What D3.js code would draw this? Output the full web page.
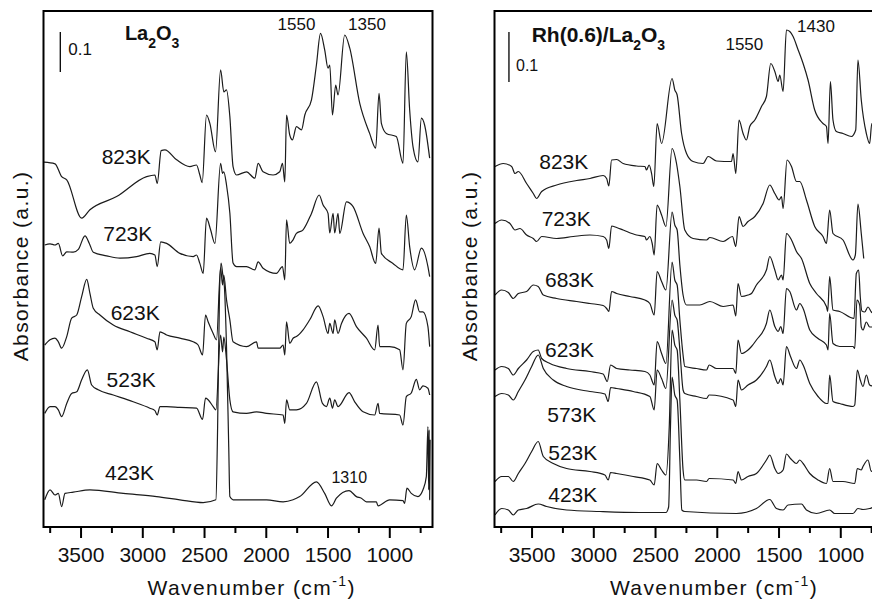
<!DOCTYPE html>
<html><head><meta charset="utf-8">
<script src="https://cdn.jsdelivr.net/npm/d3@7"></script>
<style>
html,body{margin:0;padding:0;background:#fff;}
svg{display:block;}
text{font-family:Arial,"Liberation Sans",Helvetica,sans-serif;fill:#111;}
</style></head>
<body><svg id="chart" width="872" height="601"></svg>
<script>
// ---------------- DATA ----------------
// Wavenumber tick values (cm-1)
const majorTicks = [3500, 3000, 2500, 2000, 1500, 1000];
const minorTicks = [3750, 3250, 2750, 2250, 1750, 1250, 750];

// Left panel: La2O3   [wavenumber, absorbance]
const la823 = [[3796,0.912],[3707,0.908],[3653,0.876],[3612,0.868],[3491,0.772],[3424,0.793],[3208,0.826],[2965,0.876],[2898,0.88],[2879,0.859],[2847,0.941],[2817,0.943],[2722,0.918],[2615,0.901],[2561,0.905],[2534,0.88],[2515,0.861],[2480,1.03],[2453,1.009],[2407,0.938],[2366,1.143],[2340,1.088],[2318,1.093],[2291,1.026],[2265,0.901],[2237,0.88],[2156,0.888],[2089,0.872],[2062,0.909],[2022,0.888],[1941,0.88],[1887,0.888],[1865,0.909],[1846,0.863],[1832,1.03],[1806,0.98],[1784,0.968],[1752,1.001],[1711,0.993],[1684,1.03],[1630,1.068],[1590,1.155],[1557,1.234],[1523,1.193],[1496,1.147],[1482,1.155],[1460,1.03],[1434,1.105],[1415,1.08],[1361,1.23],[1320,1.197],[1239,1.059],[1159,0.984],[1110,0.947],[1083,1.084],[1064,1.009],[1024,0.984],[943,0.976],[889,0.909],[862,1.188],[835,1.043],[808,0.951],[768,0.913],[740,1.022],[714,1.005],[673,0.922]];
const la723 = [[3790,0.705],[3747,0.708],[3707,0.705],[3680,0.709],[3645,0.678],[3612,0.688],[3559,0.687],[3518,0.694],[3464,0.728],[3429,0.709],[3397,0.687],[3289,0.678],[3181,0.672],[3046,0.676],[2939,0.684],[2898,0.68],[2879,0.651],[2851,0.713],[2803,0.709],[2696,0.684],[2588,0.676],[2561,0.68],[2534,0.659],[2507,0.634],[2480,0.772],[2447,0.743],[2412,0.709],[2366,0.909],[2350,0.884],[2340,0.888],[2318,0.855],[2291,0.785],[2265,0.66],[2237,0.651],[2156,0.651],[2089,0.643],[2062,0.663],[2022,0.647],[1914,0.634],[1865,0.651],[1846,0.618],[1832,0.768],[1806,0.709],[1779,0.718],[1752,0.734],[1698,0.743],[1630,0.784],[1568,0.83],[1536,0.805],[1496,0.784],[1482,0.735],[1455,0.784],[1442,0.735],[1415,0.784],[1401,0.734],[1347,0.813],[1293,0.801],[1212,0.734],[1159,0.701],[1110,0.659],[1083,0.747],[1064,0.684],[970,0.659],[889,0.643],[862,0.78],[835,0.701],[795,0.643],[740,0.697],[687,0.651],[673,0.626]];
const la623 = [[3790,0.455],[3747,0.468],[3707,0.472],[3680,0.463],[3653,0.447],[3612,0.476],[3572,0.522],[3531,0.53],[3491,0.576],[3450,0.619],[3424,0.584],[3397,0.547],[3343,0.53],[3235,0.505],[3100,0.488],[2965,0.472],[2898,0.463],[2879,0.443],[2857,0.488],[2803,0.48],[2696,0.472],[2588,0.463],[2548,0.455],[2512,0.43],[2488,0.53],[2467,0.513],[2426,0.484],[2399,0.468],[2366,0.648],[2350,0.605],[2340,0.63],[2318,0.568],[2291,0.518],[2265,0.463],[2156,0.451],[2075,0.463],[2062,0.447],[1994,0.447],[1887,0.447],[1860,0.455],[1846,0.43],[1832,0.513],[1806,0.459],[1779,0.472],[1752,0.476],[1698,0.493],[1644,0.518],[1576,0.553],[1536,0.526],[1496,0.484],[1482,0.509],[1455,0.484],[1442,0.518],[1415,0.484],[1387,0.509],[1326,0.534],[1266,0.501],[1185,0.472],[1118,0.443],[1091,0.505],[1078,0.451],[997,0.451],[916,0.443],[889,0.393],[862,0.509],[822,0.526],[787,0.568],[754,0.538],[727,0.538],[687,0.501],[673,0.451]];
const la523 = [[3790,0.284],[3747,0.301],[3707,0.301],[3680,0.293],[3653,0.276],[3612,0.309],[3572,0.334],[3531,0.338],[3491,0.368],[3445,0.393],[3410,0.355],[3357,0.343],[3235,0.33],[3074,0.313],[2939,0.297],[2898,0.291],[2879,0.28],[2857,0.301],[2803,0.301],[2696,0.299],[2561,0.297],[2512,0.269],[2488,0.322],[2467,0.318],[2426,0.301],[2404,0.293],[2366,0.48],[2350,0.438],[2340,0.475],[2318,0.418],[2291,0.318],[2265,0.288],[2156,0.284],[2075,0.288],[1994,0.284],[1860,0.28],[1846,0.259],[1832,0.318],[1806,0.293],[1752,0.293],[1671,0.309],[1590,0.363],[1541,0.309],[1509,0.301],[1482,0.322],[1460,0.297],[1442,0.318],[1415,0.301],[1326,0.336],[1280,0.313],[1212,0.288],[1118,0.28],[1091,0.309],[1078,0.284],[916,0.28],[889,0.255],[862,0.326],[822,0.335],[781,0.369],[754,0.343],[727,0.353],[687,0.347],[673,0.33]];
const la423 = [[3790,0.068],[3747,0.093],[3707,0.08],[3680,0.084],[3653,0.051],[3626,0.084],[3559,0.087],[3424,0.093],[3154,0.084],[2884,0.076],[2696,0.068],[2507,0.061],[2404,0.068],[2390,0.25],[2375,0.58],[2362,0.66],[2348,0.63],[2335,0.6],[2318,0.45],[2300,0.2],[2291,0.076],[2265,0.068],[1994,0.068],[1860,0.063],[1779,0.068],[1725,0.076],[1590,0.113],[1523,0.084],[1468,0.053],[1428,0.072],[1326,0.091],[1266,0.076],[1226,0.072],[1185,0.063],[1105,0.063],[1091,0.053],[997,0.068],[889,0.066],[876,0.059],[857,0.097],[822,0.084],[768,0.076],[727,0.093],[700,0.126],[687,0.251],[681,0.093],[677,0.243],[673,0.068],[669,0.218]];

// Right panel: Rh(0.6)/La2O3   [wavenumber, absorbance]
const rh823 = [[3796,0.721],[3729,0.727],[3661,0.721],[3634,0.707],[3607,0.711],[3540,0.687],[3486,0.667],[3459,0.657],[3418,0.671],[3297,0.684],[3135,0.693],[3027,0.697],[2920,0.703],[2892,0.697],[2874,0.682],[2852,0.734],[2811,0.735],[2758,0.727],[2650,0.722],[2582,0.721],[2569,0.714],[2548,0.724],[2528,0.707],[2510,0.681],[2483,0.807],[2447,0.767],[2362,0.897],[2340,0.874],[2321,0.864],[2285,0.787],[2245,0.747],[2192,0.731],[2111,0.727],[2070,0.741],[2002,0.732],[1881,0.731],[1868,0.747],[1846,0.707],[1820,0.814],[1787,0.787],[1760,0.774],[1733,0.801],[1692,0.814],[1638,0.841],[1598,0.861],[1563,0.927],[1530,0.911],[1503,0.891],[1490,0.904],[1463,0.871],[1436,0.994],[1409,0.991],[1382,0.981],[1341,0.954],[1301,0.927],[1261,0.894],[1207,0.834],[1140,0.807],[1112,0.801],[1099,0.767],[1080,0.891],[1059,0.814],[1032,0.791],[978,0.787],[910,0.781],[875,0.794],[857,0.934],[830,0.854],[789,0.787],[762,0.767],[745,0.807],[720,0.78],[690,0.76],[660,0.75]];
const rh723 = [[3796,0.607],[3742,0.614],[3675,0.607],[3634,0.594],[3594,0.597],[3540,0.584],[3486,0.577],[3459,0.571],[3418,0.581],[3297,0.577],[3162,0.581],[3027,0.584],[2920,0.581],[2892,0.574],[2874,0.557],[2852,0.602],[2811,0.599],[2758,0.594],[2650,0.584],[2582,0.581],[2569,0.574],[2542,0.581],[2523,0.567],[2507,0.544],[2483,0.644],[2447,0.624],[2412,0.601],[2362,0.757],[2326,0.727],[2299,0.681],[2259,0.594],[2192,0.577],[2083,0.574],[2056,0.579],[1949,0.571],[1873,0.581],[1846,0.561],[1820,0.621],[1787,0.601],[1747,0.611],[1692,0.621],[1625,0.647],[1571,0.684],[1530,0.667],[1495,0.654],[1476,0.661],[1463,0.637],[1431,0.734],[1395,0.721],[1355,0.691],[1328,0.691],[1274,0.654],[1207,0.601],[1140,0.581],[1112,0.567],[1086,0.634],[1059,0.587],[978,0.574],[897,0.534],[878,0.544],[857,0.646],[830,0.587],[810,0.537]];
const rh683 = [[3796,0.464],[3742,0.474],[3688,0.469],[3648,0.457],[3607,0.467],[3540,0.471],[3486,0.484],[3446,0.481],[3405,0.464],[3297,0.457],[3135,0.451],[3027,0.447],[2920,0.443],[2892,0.437],[2874,0.431],[2852,0.471],[2811,0.467],[2704,0.461],[2582,0.454],[2542,0.447],[2507,0.424],[2483,0.511],[2447,0.491],[2412,0.474],[2362,0.63],[2340,0.604],[2321,0.594],[2299,0.524],[2273,0.464],[2245,0.444],[2137,0.444],[2056,0.451],[1949,0.441],[1868,0.444],[1846,0.422],[1828,0.487],[1800,0.461],[1747,0.464],[1719,0.467],[1679,0.484],[1598,0.514],[1571,0.541],[1530,0.514],[1503,0.494],[1476,0.504],[1463,0.494],[1436,0.587],[1395,0.574],[1355,0.551],[1314,0.537],[1247,0.487],[1193,0.467],[1112,0.441],[1102,0.431],[1086,0.501],[1059,0.434],[1005,0.431],[889,0.417],[870,0.507],[851,0.514],[838,0.46],[825,0.432],[802,0.43],[776,0.44],[748,0.43],[720,0.425],[690,0.415],[660,0.41]];
const rh623 = [[3796,0.314],[3742,0.321],[3688,0.317],[3648,0.304],[3607,0.317],[3540,0.334],[3486,0.351],[3446,0.354],[3418,0.337],[3351,0.327],[3216,0.317],[3027,0.311],[2920,0.306],[2887,0.291],[2860,0.324],[2811,0.317],[2704,0.314],[2582,0.311],[2542,0.304],[2507,0.284],[2483,0.371],[2447,0.347],[2412,0.327],[2362,0.53],[2340,0.494],[2321,0.484],[2299,0.414],[2273,0.344],[2259,0.321],[2164,0.317],[2083,0.314],[2062,0.324],[2002,0.317],[1868,0.317],[1846,0.307],[1828,0.374],[1800,0.347],[1747,0.354],[1719,0.361],[1679,0.374],[1598,0.407],[1571,0.434],[1530,0.401],[1503,0.391],[1482,0.401],[1463,0.387],[1436,0.477],[1409,0.471],[1355,0.434],[1328,0.447],[1301,0.437],[1247,0.394],[1180,0.377],[1112,0.364],[1099,0.354],[1086,0.427],[1059,0.367],[1005,0.361],[897,0.361],[883,0.357],[865,0.454],[843,0.444],[830,0.40],[816,0.394],[789,0.41],[762,0.40],[720,0.40],[690,0.39]];
const rh573 = [[3796,0.261],[3742,0.267],[3688,0.264],[3648,0.254],[3607,0.271],[3553,0.294],[3499,0.321],[3446,0.344],[3405,0.317],[3324,0.294],[3216,0.281],[3027,0.271],[2906,0.266],[2879,0.251],[2860,0.279],[2811,0.277],[2677,0.271],[2542,0.261],[2507,0.234],[2483,0.314],[2447,0.297],[2412,0.277],[2362,0.454],[2340,0.424],[2321,0.414],[2299,0.354],[2273,0.274],[2259,0.267],[2164,0.261],[2083,0.257],[2062,0.264],[1868,0.254],[1846,0.241],[1828,0.294],[1800,0.274],[1747,0.284],[1679,0.294],[1598,0.321],[1571,0.334],[1530,0.301],[1503,0.287],[1482,0.297],[1463,0.284],[1436,0.361],[1403,0.341],[1355,0.317],[1328,0.334],[1301,0.324],[1247,0.287],[1180,0.261],[1112,0.247],[1099,0.247],[1086,0.304],[1059,0.251],[1005,0.247],[897,0.241],[883,0.244],[862,0.314],[838,0.294],[816,0.281],[789,0.304],[762,0.284],[720,0.28],[690,0.27]];
const rh523 = [[3796,0.091],[3742,0.101],[3688,0.101],[3648,0.091],[3607,0.107],[3553,0.127],[3499,0.151],[3446,0.171],[3405,0.141],[3324,0.127],[3216,0.117],[3027,0.111],[2906,0.104],[2879,0.094],[2860,0.109],[2811,0.107],[2677,0.101],[2542,0.094],[2507,0.084],[2483,0.127],[2447,0.114],[2412,0.104],[2385,0.2],[2362,0.394],[2340,0.364],[2321,0.354],[2299,0.254],[2273,0.114],[2259,0.094],[2164,0.094],[2083,0.091],[2062,0.097],[1868,0.094],[1846,0.087],[1828,0.111],[1800,0.094],[1747,0.101],[1679,0.107],[1598,0.134],[1571,0.144],[1530,0.117],[1503,0.107],[1463,0.114],[1436,0.146],[1403,0.137],[1355,0.127],[1328,0.134],[1301,0.127],[1247,0.107],[1180,0.094],[1112,0.087],[1086,0.117],[1059,0.091],[978,0.091],[883,0.087],[862,0.117],[830,0.114],[816,0.121],[776,0.134],[748,0.111],[720,0.12],[690,0.11]];
const rh423 = [[3796,0.024],[3742,0.037],[3688,0.034],[3648,0.024],[3607,0.034],[3540,0.037],[3446,0.046],[3378,0.041],[3216,0.034],[2946,0.031],[2623,0.029],[2412,0.029],[2390,0.04],[2375,0.2],[2362,0.3],[2340,0.264],[2321,0.254],[2299,0.134],[2283,0.034],[2259,0.031],[1841,0.027],[1679,0.037],[1571,0.055],[1517,0.037],[1463,0.034],[1423,0.044],[1314,0.046],[1274,0.034],[1193,0.027],[1086,0.034],[1045,0.027],[897,0.027],[857,0.037],[816,0.035],[762,0.037],[720,0.04],[690,0.038]];

const leftSeries  = [la823, la723, la623, la523, la423];
const rightSeries = [rh823, rh723, rh683, rh623, rh573, rh523, rh423];
const leftTemps  = ["823K","723K","623K","523K","423K"];
const rightTemps = ["823K","723K","683K","623K","573K","523K","423K"];

// ---------------- LAYOUT ----------------
const svg = d3.select("#chart");
const yTop = 11, yBot = 527;

const panels = [
  {x0:43.5, x1:432.5, yMax:1.29, series:leftSeries, temps:leftTemps,
   tempPos:[[3329,0.9075],[3316,0.716],[3256,0.5175],[3289,0.351],[3302,0.1175]],
   title:{wn:3141, a:1.2175, pre:"La", size:20},
   peaks:[{t:"1550",wn:1905,a:1.2425,s:17},{t:"1350",wn:1334,a:1.2425,s:17},{t:"1310",wn:1468,a:0.11,s:16}],
   bar:{wn:3664, a0:1.1375, a1:1.2375, twn:3599, ta:1.18, ts:17},
   xTitle:251.7, yTitleX:28},
  {x0:494.5, x1:883.5, yMax:1.032, series:rightSeries, temps:rightTemps,
   tempPos:[[3438,0.717],[3418,0.602],[3391,0.481],[3391,0.341],[3373,0.211],[3365,0.134],[3365,0.051]],
   title:{wn:3499, a:0.9706, pre:"Rh(0.6)/La", size:21},
   peaks:[{t:"1550",wn:1930,a:0.954,s:17},{t:"1430",wn:1350,a:0.9906,s:17}],
   bar:{wn:3683, a0:0.89, a1:0.99, twn:3626, ta:0.9126, ts:16},
   xTitle:714, yTitleX:477}
];

panels.forEach(p => {
  const x = d3.scaleLinear().domain([3800, 650]).range([p.x0, p.x1]);
  const y = d3.scaleLinear().domain([0, p.yMax]).range([yBot, yTop]);
  const g = svg.append("g");

  // spectra
  const line = d3.line().x(d => x(d[0])).y(d => y(d[1])).curve(d3.curveMonotoneX);
  g.selectAll("path.spec").data(p.series).join("path")
    .attr("class","spec")
    .attr("d", line)
    .attr("fill","none")
    .attr("stroke","#1b1b1b")
    .attr("stroke-width",1.2)
    .attr("stroke-linejoin","round");

  // frame
  g.append("rect")
    .attr("x", p.x0).attr("y", yTop)
    .attr("width", p.x1 - p.x0).attr("height", yBot - yTop)
    .attr("fill","none").attr("stroke","#000").attr("stroke-width",2);

  // x axis major
  const ax = g.append("g").attr("transform", `translate(0,${yBot})`)
    .call(d3.axisBottom(x).tickValues(majorTicks).tickSize(11).tickSizeOuter(0).tickPadding(9).tickFormat(d3.format("d")));
  ax.select(".domain").remove();
  ax.selectAll(".tick line").attr("stroke","#000").attr("stroke-width",2);
  ax.selectAll(".tick text").attr("font-size",21).attr("fill","#111")
    .style("font-family","Arial, 'Liberation Sans', sans-serif");
  // x axis minor
  const axm = g.append("g").attr("transform", `translate(0,${yBot})`)
    .call(d3.axisBottom(x).tickValues(minorTicks).tickSize(6).tickSizeOuter(0).tickFormat(""));
  axm.select(".domain").remove();
  axm.selectAll(".tick line").attr("stroke","#000").attr("stroke-width",2);

  // temperature labels
  p.temps.forEach((t,i) => {
    g.append("text").attr("x", x(p.tempPos[i][0])).attr("y", y(p.tempPos[i][1]))
      .attr("font-size",21).text(t);
  });

  // peak labels
  p.peaks.forEach(k => {
    g.append("text").attr("x", x(k.wn)).attr("y", y(k.a)).attr("font-size", k.s).text(k.t);
  });

  // title with subscripts
  const tt = g.append("text").attr("x", x(p.title.wn)).attr("y", y(p.title.a))
    .attr("font-size", p.title.size).attr("font-weight","bold");
  tt.append("tspan").text(p.title.pre);
  tt.append("tspan").attr("dy",8).attr("font-size",14).text("2");
  tt.append("tspan").attr("dy",-8).text("O");
  tt.append("tspan").attr("dy",8).attr("font-size",14).text("3");

  // 0.1 scale bar
  g.append("line").attr("x1", x(p.bar.wn)).attr("x2", x(p.bar.wn))
    .attr("y1", y(p.bar.a0)).attr("y2", y(p.bar.a1))
    .attr("stroke","#000").attr("stroke-width",1.3);
  g.append("text").attr("x", x(p.bar.twn)).attr("y", y(p.bar.ta)).attr("font-size", p.bar.ts).text("0.1");

  // axis titles
  const xt = g.append("text").attr("x", p.xTitle).attr("y", 595)
    .attr("text-anchor","middle").attr("font-size",21).style("letter-spacing","1.4px");
  xt.append("tspan").text("Wavenumber (cm");
  xt.append("tspan").attr("dy",-9).attr("font-size",14).text("-1");
  xt.append("tspan").attr("dy",9).text(")");

  g.append("text").attr("transform", `translate(${p.yTitleX},266) rotate(-90)`)
    .attr("text-anchor","middle").attr("font-size",21).style("letter-spacing","1.4px")
    .text("Absorbance (a.u.)");
});
</script>
</body></html>
